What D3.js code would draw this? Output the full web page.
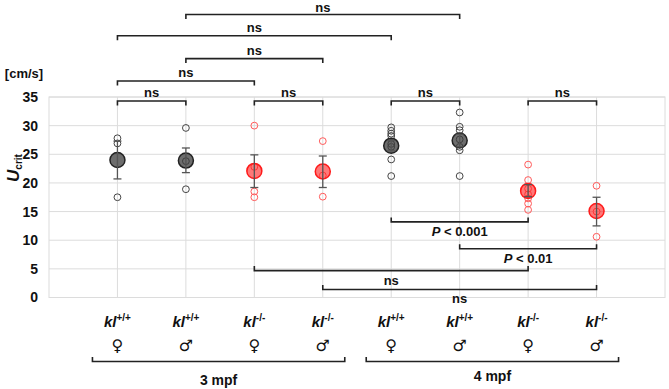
<!DOCTYPE html>
<html>
<head>
<meta charset="utf-8">
<style>
  body { margin: 0; background: #fff; }
  svg text { font-family: "Liberation Sans", Arial, sans-serif; font-weight: bold; fill: #111; }
</style>
</head>
<body>
<svg id="chart" width="669" height="389"></svg>
<script src="https://cdn.jsdelivr.net/npm/d3@7"></script>
<script>
// data
var genotypes = ["+/+", "+/+", "-/-", "-/-", "+/+", "+/+", "-/-", "-/-"];
var sexes = ["\u2640", "\u2642", "\u2640", "\u2642", "\u2640", "\u2642", "\u2640", "\u2642"];
var means = [24.0, 23.9, 22.1, 22.0, 26.5, 27.4, 18.6, 15.1];
var errLo = [20.7, 21.8, 19.2, 19.2, 25.6, 26.3, 17.6, 12.5];
var errHi = [27.3, 26.1, 24.9, 24.7, 27.4, 28.5, 19.7, 17.5];
var points = [
  [27.8, 26.9, 17.5],
  [29.6, 23.8, 18.9],
  [30.0, 22.8, 18.5, 17.5],
  [27.3, 21.3, 17.6],
  [29.7, 29.1, 28.6, 28.2, 26.8, 26.3, 24.1, 21.2],
  [32.3, 29.8, 29.2, 27.6, 26.3, 25.7, 21.2],
  [23.2, 20.5, 19.0, 18.0, 17.3, 16.4, 15.3],
  [19.5, 15.0, 10.6]
];
var yTicks = [0, 5, 10, 15, 20, 25, 30, 35];
var ages = ["3 mpf", "4 mpf"];

// comparisons: group a, group b, bracket level (in cm/s), label
var compFrom = [0, 2, 4, 6, 0, 1, 0, 1, 4, 5, 2, 3];
var compTo   = [1, 3, 5, 7, 2, 3, 4, 5, 6, 7, 6, 7];
var compLevel = [34.3, 34.3, 34.3, 34.3, 37.8, 41.7, 45.7, 49.4, 13.2, 8.5, 4.7, 1.4];
var compText = ["ns", "ns", "ns", "ns", "ns", "ns", "ns", "ns", "P < 0.001", "P < 0.01", "ns", "ns"];

function draw() {
var svg = d3.select("#chart");
var pl = 49, pr = 665, pt = 97, pb = 297.5;

var idx = d3.range(means.length);
var x = d3.scalePoint().domain(idx).range([pl, pr]).padding(1);
var y = d3.scaleLinear().domain([0, 35]).range([pb, pt]);

// grid
var g = svg.append("g");
g.selectAll(".hg").data(yTicks).enter().append("line")
  .attr("x1", pl).attr("x2", pr)
  .attr("y1", function(d){ return y(d); }).attr("y2", function(d){ return y(d); })
  .attr("stroke", "#dcdcdc").attr("stroke-width", 1);
g.selectAll(".vg").data(idx).enter().append("line")
  .attr("x1", function(d){ return x(d); }).attr("x2", function(d){ return x(d); })
  .attr("y1", pt).attr("y2", pb)
  .attr("stroke", "#dcdcdc").attr("stroke-width", 1);
g.append("rect").attr("x", pl).attr("y", pt).attr("width", pr - pl).attr("height", pb - pt)
  .attr("fill", "none").attr("stroke", "#dcdcdc");

// y axis
var ax = svg.append("g").attr("transform", "translate(" + pl + ",0)")
  .call(d3.axisLeft(y).tickValues(yTicks).tickSize(0).tickPadding(11));
ax.select(".domain").remove();
ax.selectAll("text").style("font-size", "14px").style("font-weight", "bold")
  .style("font-family", "Liberation Sans, Arial, sans-serif").attr("fill", "#111");

svg.append("text").attr("x", 24).attr("y", 78).attr("text-anchor", "middle")
  .style("font-size", "13px").text("[cm/s]");

var yl = svg.append("text").attr("transform", "translate(19,168) rotate(-90)")
  .attr("text-anchor", "middle").style("font-size", "17px");
yl.append("tspan").style("font-style", "italic").text("U");
yl.append("tspan").attr("dy", 3).style("font-size", "10px").text("crit");

// points
var isKO = function(i){ return genotypes[i] === "-/-"; };
idx.forEach(function(i){
  svg.append("g").selectAll("circle").data(points[i]).enter().append("circle")
    .attr("cx", x(i)).attr("cy", function(d){ return y(d); }).attr("r", 3.4)
    .attr("fill", "none")
    .attr("stroke", isKO(i) ? "#ff5a5a" : "#444")
    .attr("stroke-width", 1);
});

// means
svg.append("g").selectAll("circle").data(idx).enter().append("circle")
  .attr("cx", function(i){ return x(i); }).attr("cy", function(i){ return y(means[i]); })
  .attr("r", 7.5)
  .attr("fill", function(i){ return isKO(i) ? "rgba(255,30,30,0.6)" : "rgba(60,60,60,0.75)"; })
  .attr("stroke", function(i){ return isKO(i) ? "#ff1a1a" : "#222"; })
  .attr("stroke-width", 1.5);

// error bars
var eb = svg.append("g").attr("stroke", "#555").attr("stroke-width", 1.3);
idx.forEach(function(i){
  eb.append("line").attr("x1", x(i)).attr("x2", x(i)).attr("y1", y(errLo[i])).attr("y2", y(errHi[i]));
  eb.append("line").attr("x1", x(i) - 4).attr("x2", x(i) + 4).attr("y1", y(errLo[i])).attr("y2", y(errLo[i]));
  eb.append("line").attr("x1", x(i) - 4).attr("x2", x(i) + 4).attr("y1", y(errHi[i])).attr("y2", y(errHi[i]));
});

// significance brackets
var br = svg.append("g");
compFrom.forEach(function(a, k){
  var b = compTo[k];
  var yy = y(compLevel[k]);
  var up = compLevel[k] < 20;
  var t = up ? -4.5 : 4.5;
  br.append("path")
    .attr("d", "M" + x(a) + "," + (yy + t) + "V" + yy + "H" + x(b) + "V" + (yy + t))
    .attr("fill", "none").attr("stroke", "#222").attr("stroke-width", 1.6);
  var tx = br.append("text").attr("x", (x(a) + x(b)) / 2)
    .attr("y", up ? yy + 14 : Math.max(yy - 4, 12)).attr("text-anchor", "middle").style("font-size", "13px");
  if (compText[k].charAt(0) === "P") {
    tx.append("tspan").style("font-style", "italic").text("P");
    tx.append("tspan").text(compText[k].slice(1));
  } else {
    tx.text(compText[k]);
  }
});

// x labels
idx.forEach(function(i){
  var t = svg.append("text").attr("x", x(i)).attr("y", 327).attr("text-anchor", "middle")
    .style("font-size", "15px");
  t.append("tspan").style("font-style", "italic").text("kl");
  t.append("tspan").attr("dy", -6).style("font-size", "10px").text(genotypes[i]);
  svg.append("text").attr("x", x(i)).attr("y", 351).attr("text-anchor", "middle")
    .style("font-size", "16px").style("font-family", "DejaVu Sans, sans-serif").text(sexes[i]);
});

// age brackets
ages.forEach(function(a, k){
  var x0 = x(k * 4) - 25, x1 = x(k * 4 + 3) + 22;
  svg.append("path")
    .attr("d", "M" + x0 + ",357V361.5H" + x1 + "V357")
    .attr("fill", "none").attr("stroke", "#222").attr("stroke-width", 1.6);
  svg.append("text").attr("x", (x0 + x1) / 2).attr("y", 385 - k * 4).attr("text-anchor", "middle")
    .style("font-size", "14px").text(a);
});
}
draw();
</script>
</body>
</html>
